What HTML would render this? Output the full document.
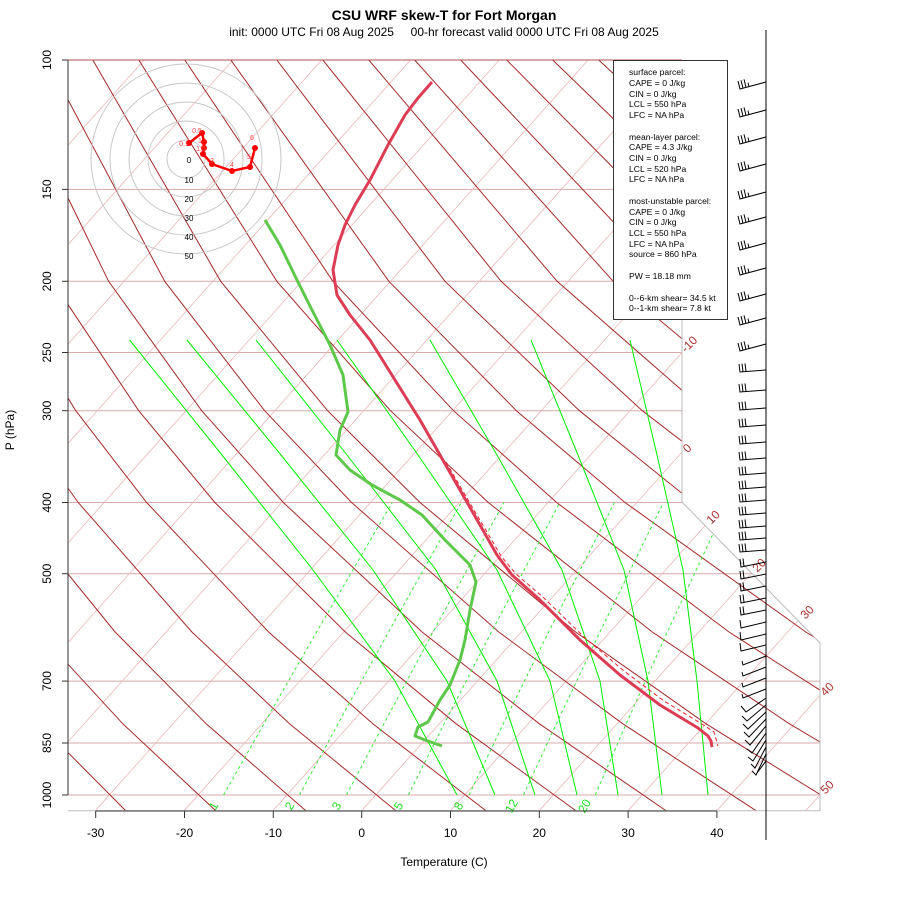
<!DOCTYPE html>
<html><head><meta charset="utf-8"><style>
body{margin:0;background:#fff}
svg{display:block;font-family:"Liberation Sans",sans-serif}
</style></head><body>
<svg width="900" height="900" viewBox="0 0 900 900" xmlns="http://www.w3.org/2000/svg" xmlns:xlink="http://www.w3.org/1999/xlink">
<defs>
<clipPath id="cp"><path d="M68,60 L682,60 L682,502 L820,643 L820,810.7 L68,810.7 Z"/></clipPath>
<line id="iso" x1="361.7" y1="810.7" x2="1032.1" y2="60" stroke="#eab8b8" stroke-width="0.8"/>
<path id="bA" d="M766,0 l-26,7 l-2,-8 m5,7.2 l-2,-8 m5,7.2 l-2,-8 m5,7.2 l-1,-4"/>
<path id="bB" d="M766,0 l-26,2 l-1,-8 m4,7.7 l-1,-8 m4,7.7 l-1,-8"/>
<path id="bC" d="M766,0 l-25,5 l-1,-8 m4,7.4 l-1,-8"/>
<path id="bC2" d="M766,0 l-25,6 l-1,-8"/>
<path id="bD" d="M766,0 l-23,9 l-1,-4"/>
</defs>
<rect width="900" height="900" fill="#fff"/>
<g clip-path="url(#cp)">
<g stroke="#d8aaaa" stroke-width="1">
<line x1="68" y1="189.4" x2="830" y2="189.4"/><line x1="68" y1="281.3" x2="830" y2="281.3"/><line x1="68" y1="352.5" x2="830" y2="352.5"/><line x1="68" y1="410.7" x2="830" y2="410.7"/><line x1="68" y1="502.5" x2="830" y2="502.5"/><line x1="68" y1="573.7" x2="830" y2="573.7"/><line x1="68" y1="681.1" x2="830" y2="681.1"/><line x1="68" y1="743" x2="830" y2="743"/><line x1="68" y1="795" x2="830" y2="795"/>
</g>
<use xlink:href="#iso" x="-1243.2"/><use xlink:href="#iso" x="-1154.4"/><use xlink:href="#iso" x="-1065.6"/><use xlink:href="#iso" x="-976.8"/><use xlink:href="#iso" x="-888"/><use xlink:href="#iso" x="-799.2"/><use xlink:href="#iso" x="-710.4"/><use xlink:href="#iso" x="-621.6"/><use xlink:href="#iso" x="-532.8"/><use xlink:href="#iso" x="-444"/><use xlink:href="#iso" x="-355.2"/><use xlink:href="#iso" x="-266.4"/><use xlink:href="#iso" x="-177.6"/><use xlink:href="#iso" x="-88.8"/><use xlink:href="#iso" x="0"/><use xlink:href="#iso" x="88.8"/><use xlink:href="#iso" x="177.6"/><use xlink:href="#iso" x="266.4"/><use xlink:href="#iso" x="355.2"/><use xlink:href="#iso" x="444"/>
<g fill="none" stroke="#a52a2a" stroke-width="1">
<polyline points="125.6,810.6 39.5,723.8 -38.4,632 -126.9,502.5 -176.1,410.7 -227.8,281.3 -275.1,60"/>
<polyline points="215.6,810.6 122.8,723.8 38.4,632 -58.5,502.5 -113.1,410.7 -171.8,281.3 -229.1,60"/>
<polyline points="305.7,810.6 206.2,723.8 115.1,632 9.9,502.5 -50.2,410.7 -115.7,281.3 -183.1,60"/>
<polyline points="395.7,810.6 289.5,723.8 191.9,632 78.2,502.5 12.8,410.7 -59.6,281.3 -137.1,60"/>
<polyline points="485.8,810.6 372.8,723.8 268.6,632 146.6,502.5 75.8,410.7 -3.6,281.3 -91.1,60"/>
<polyline points="575.8,810.6 456.1,723.8 345.3,632 214.9,502.5 138.7,410.7 52.5,281.3 -45.2,60"/>
<polyline points="665.9,810.6 539.4,723.8 422.1,632 283.3,502.5 201.7,410.7 108.6,281.3 0.8,60"/>
<polyline points="755.9,810.6 622.8,723.8 498.8,632 351.6,502.5 264.6,410.7 164.7,281.3 46.8,60"/>
<polyline points="846,810.6 706.1,723.8 575.6,632 420,502.5 327.6,410.7 220.7,281.3 92.8,60"/>
<polyline points="936,810.6 789.4,723.8 652.3,632 488.3,502.5 390.5,410.7 276.8,281.3 138.8,60"/>
<polyline points="1026.1,810.6 872.7,723.8 729,632 556.7,502.5 453.5,410.7 332.9,281.3 184.8,60"/>
<polyline points="1116.1,810.6 956,723.8 805.8,632 625,502.5 516.4,410.7 388.9,281.3 230.8,60"/>
<polyline points="1206.2,810.6 1039.4,723.8 882.5,632 693.4,502.5 579.4,410.7 445,281.3 276.8,60"/>
<polyline points="1296.3,810.6 1122.7,723.8 959.3,632 761.7,502.5 642.3,410.7 501.1,281.3 322.8,60"/>
<polyline points="1386.3,810.6 1206,723.8 1036,632 830.1,502.5 705.3,410.7 557.1,281.3 368.8,60"/>
<polyline points="1476.4,810.6 1289.3,723.8 1112.7,632 898.4,502.5 768.2,410.7 613.2,281.3 414.7,60"/>
<polyline points="1566.4,810.6 1372.6,723.8 1189.5,632 966.8,502.5 831.2,410.7 669.3,281.3 460.7,60"/>
<polyline points="1656.5,810.6 1456,723.8 1266.2,632 1035.1,502.5 894.1,410.7 725.3,281.3 506.7,60"/>
<polyline points="1746.5,810.6 1539.3,723.8 1343,632 1103.5,502.5 957.1,410.7 781.4,281.3 552.7,60"/>
<polyline points="1171.8,502.5 1020,410.7 837.5,281.3 598.7,60"/>
<polyline points="1240.2,502.5 1083,410.7 893.5,281.3 644.7,60"/>
</g>
<g fill="none" stroke="#33ee33" stroke-width="1" stroke-dasharray="3,3">
<polyline points="223.6,795 263.9,723.8 316.6,632 392.3,502.5"/>
<polyline points="299.5,795 338,723.8 388.5,632 461.3,502.5"/>
<polyline points="346.5,795 383.9,723.8 433,632 503.9,502.5"/>
<polyline points="408.3,795 444.2,723.8 491.4,632 559.8,502.5"/>
<polyline points="469,795 503.3,723.8 548.6,632 614.5,502.5"/>
<polyline points="523.5,795 556.4,723.8 599.9,632 663.4,502.5"/>
<polyline points="595.2,795 626.2,723.8 667.3,632 727.7,502.5"/>
</g>
<g fill="none" stroke="#00ee00" stroke-width="1">
<polyline points="129.6,340 222,455 313,570 395,681 457,795"/>
<polyline points="187,340 281,455 373,570 447,681 495,795"/>
<polyline points="256,340 347,455 436,570 497,681 535,795"/>
<polyline points="337,340 418,455 497,570 550,681 577,795"/>
<polyline points="430,340 497,455 562,570 600,681 618,795"/>
<polyline points="531,340 578,455 624,570 648,681 662,795"/>
<polyline points="630,340 657,455 683,570 697,681 708,795"/>
</g>
</g>
<path d="M682,60 L682,502 L820,643 L820,810.7 L68,810.7" fill="none" stroke="#bbb" stroke-width="1"/>
<line x1="68" y1="60" x2="682" y2="60" stroke="#b05050" stroke-width="1"/>
<g fill="#22dd22" font-size="12" text-anchor="middle">
<text transform="translate(217,808) rotate(-60)">1</text><text transform="translate(293,808) rotate(-60)">2</text><text transform="translate(340,808) rotate(-60)">3</text><text transform="translate(402,808) rotate(-60)">5</text><text transform="translate(462,808) rotate(-60)">8</text><text transform="translate(515,808) rotate(-60)">12</text><text transform="translate(588,808) rotate(-60)">20</text>
</g>
<g fill="#b03030" font-size="12" text-anchor="middle">
<text transform="translate(692,347) rotate(-45)">-10</text><text transform="translate(690,451) rotate(-45)">0</text><text transform="translate(716,520) rotate(-45)">10</text><text transform="translate(762,568) rotate(-45)">20</text><text transform="translate(810,615) rotate(-45)">30</text><text transform="translate(830,692) rotate(-45)">40</text><text transform="translate(830,790) rotate(-45)">50</text>
</g>
<!-- axes -->
<line x1="68" y1="60" x2="68" y2="795" stroke="#333"/>
<line x1="95.7" y1="811" x2="717" y2="811" stroke="#333"/>
<g stroke="#333">
<line x1="62" y1="60" x2="68" y2="60"/><line x1="62" y1="189.4" x2="68" y2="189.4"/><line x1="62" y1="281.3" x2="68" y2="281.3"/><line x1="62" y1="352.5" x2="68" y2="352.5"/><line x1="62" y1="410.7" x2="68" y2="410.7"/><line x1="62" y1="502.5" x2="68" y2="502.5"/><line x1="62" y1="573.7" x2="68" y2="573.7"/><line x1="62" y1="681.1" x2="68" y2="681.1"/><line x1="62" y1="743" x2="68" y2="743"/><line x1="62" y1="795" x2="68" y2="795"/>
<line x1="95.7" y1="811" x2="95.7" y2="818"/><line x1="184.5" y1="811" x2="184.5" y2="818"/><line x1="273.3" y1="811" x2="273.3" y2="818"/><line x1="361.7" y1="811" x2="361.7" y2="818"/><line x1="450.5" y1="811" x2="450.5" y2="818"/><line x1="539.3" y1="811" x2="539.3" y2="818"/><line x1="628.1" y1="811" x2="628.1" y2="818"/><line x1="716.9" y1="811" x2="716.9" y2="818"/>
</g>
<g font-size="12" fill="#000" text-anchor="middle">
<text transform="translate(51,60) rotate(-90)">100</text><text transform="translate(51,189.4) rotate(-90)">150</text><text transform="translate(51,281.3) rotate(-90)">200</text><text transform="translate(51,352.5) rotate(-90)">250</text><text transform="translate(51,410.7) rotate(-90)">300</text><text transform="translate(51,502.5) rotate(-90)">400</text><text transform="translate(51,573.7) rotate(-90)">500</text><text transform="translate(51,681.1) rotate(-90)">700</text><text transform="translate(51,743) rotate(-90)">850</text><text transform="translate(51,795) rotate(-90)">1000</text>
<text x="95.7" y="837">-30</text><text x="184.5" y="837">-20</text><text x="273.3" y="837">-10</text><text x="361.7" y="837">0</text><text x="450.5" y="837">10</text><text x="539.3" y="837">20</text><text x="628.1" y="837">30</text><text x="716.9" y="837">40</text>
</g>
<text x="444" y="20" text-anchor="middle" font-size="14" font-weight="bold">CSU WRF skew-T for Fort Morgan</text>
<text x="444" y="36" text-anchor="middle" font-size="12" xml:space="preserve">init: 0000 UTC Fri 08 Aug 2025     00-hr forecast valid 0000 UTC Fri 08 Aug 2025</text>
<text x="444" y="866" text-anchor="middle" font-size="12">Temperature (C)</text>
<text transform="translate(14,430) rotate(-90)" text-anchor="middle" font-size="12">P (hPa)</text>
<!-- profiles -->
<polyline fill="none" stroke="#5ec84a" stroke-width="3" stroke-linejoin="round" points="265,220 280,245 297,280 312,310 330,345 343,375 348,412 340,430 336,455 350,470 372,485 400,500 422,515 445,540 470,565 476,582 470,610 465,640 460,660 450,685 440,700 428,722 418,727 415,736 425,740 442,746"/>
<polyline fill="none" stroke="#e8202a" stroke-width="1" stroke-dasharray="4,3" points="446,462 464,493 484,527 501,556 516,574 544,598 584,637 624,671 664,701 702,724 714,732 718,746"/>
<polyline fill="none" stroke="#dc3c54" stroke-width="3" stroke-linejoin="round" points="432,82 418,98 405,115 388,145 370,180 355,205 345,225 338,245 333,270 337,295 350,315 370,340 395,380 420,420 440,455 460,490 480,525 497,555 512,575 540,600 580,640 620,675 660,705 698,728 708,736 711,741 712,747"/>
<!-- hodograph -->
<g fill="none" stroke="#c8c8c8">
<circle cx="186" cy="159" r="19"/><circle cx="186" cy="159" r="38"/><circle cx="186" cy="159" r="57"/><circle cx="186" cy="159" r="76"/><circle cx="186" cy="159" r="95"/></g>
<g font-size="8" fill="#000" text-anchor="middle">
<text x="189" y="163">0</text><text x="189" y="183">10</text><text x="189" y="202">20</text><text x="189" y="221">30</text><text x="189" y="240">40</text><text x="189" y="259">50</text></g>
<polyline fill="none" stroke="#f00" stroke-width="2.5" points="189,143 202,133 204,142 204,148 203,154 212,164 232,171 250,167 255,148"/>
<g fill="#f00"><circle cx="189" cy="143" r="3"/><circle cx="202" cy="133" r="3"/><circle cx="204" cy="142" r="3"/><circle cx="204" cy="148" r="3"/><circle cx="203" cy="154" r="3"/><circle cx="212" cy="164" r="3"/><circle cx="232" cy="171" r="3"/><circle cx="250" cy="167" r="3"/><circle cx="255" cy="148" r="3"/></g>
<g font-size="7" fill="#f44" text-anchor="middle">
<text x="197" y="133">0.5</text><text x="184" y="146">0.1</text><text x="200" y="143">1</text><text x="201" y="151">1.5</text><text x="212" y="163">3</text><text x="232" y="167">4</text><text x="249" y="159">5</text><text x="252" y="140">6</text></g>
<!-- legend -->
<rect x="613.5" y="60.5" width="114" height="259" fill="#fff" stroke="#333"/>
<g font-size="8.6" fill="#000">
<text x="629" y="75">surface parcel:</text><text x="629" y="86">CAPE = 0 J/kg</text><text x="629" y="97">CIN = 0 J/kg</text><text x="629" y="107">LCL = 550 hPa</text><text x="629" y="118">LFC = NA hPa</text>
<text x="629" y="140">mean-layer parcel:</text><text x="629" y="150">CAPE = 4.3 J/kg</text><text x="629" y="161">CIN = 0 J/kg</text><text x="629" y="172">LCL = 520 hPa</text><text x="629" y="182">LFC = NA hPa</text>
<text x="629" y="204">most-unstable parcel:</text><text x="629" y="215">CAPE = 0 J/kg</text><text x="629" y="225">CIN = 0 J/kg</text><text x="629" y="236">LCL = 550 hPa</text><text x="629" y="247">LFC = NA hPa</text><text x="629" y="257">source = 860 hPa</text>
<text x="629" y="279">PW =  18.18 mm</text>
<text x="629" y="301">0--6-km shear= 34.5 kt</text><text x="629" y="311">0--1-km shear= 7.8 kt</text></g>
<line x1="766" y1="30" x2="766" y2="840" stroke="#000"/>
<g stroke="#000" stroke-width="1" fill="none">
<use xlink:href="#bA" y="82"/><use xlink:href="#bA" y="110"/><use xlink:href="#bA" y="137"/><use xlink:href="#bA" y="164"/><use xlink:href="#bA" y="192"/><use xlink:href="#bA" y="217"/><use xlink:href="#bA" y="243"/><use xlink:href="#bA" y="268"/><use xlink:href="#bA" y="294"/><use xlink:href="#bA" y="318"/><use xlink:href="#bA" y="344"/>
<use xlink:href="#bB" y="370"/><use xlink:href="#bB" y="390"/><use xlink:href="#bB" y="408"/><use xlink:href="#bB" y="425"/><use xlink:href="#bB" y="442"/><use xlink:href="#bB" y="458"/><use xlink:href="#bB" y="473"/><use xlink:href="#bB" y="487"/><use xlink:href="#bB" y="500"/><use xlink:href="#bB" y="513"/><use xlink:href="#bB" y="526"/><use xlink:href="#bB" y="538"/><use xlink:href="#bB" y="550"/>
<use xlink:href="#bC" y="562"/><use xlink:href="#bC" y="574"/><use xlink:href="#bC" y="586"/><use xlink:href="#bC" y="598"/><use xlink:href="#bC" y="610"/>
<use xlink:href="#bC2" y="622"/><use xlink:href="#bC2" y="634"/><use xlink:href="#bC2" y="645"/>
<use xlink:href="#bD" y="656"/><use xlink:href="#bD" y="667"/><use xlink:href="#bD" y="678"/><use xlink:href="#bD" y="689"/>
<path d="M766,698 l-20,14 l-5,-6 M766,705 l-19,16 l-5,-5 M766,712 l-18,17 l-5,-5 M766,719 l-17,18 l-5,-5 M766,726 l-16,19 l-5,-5 M766,733 l-14,20 l-5,-4 M766,740 l-13,21 l-5,-4 M766,747 l-11,21 l-4,-4 M766,754 l-10,21 l-4,-4 M766,761 l-9,12"/>
</g>
</svg>
</body></html>
